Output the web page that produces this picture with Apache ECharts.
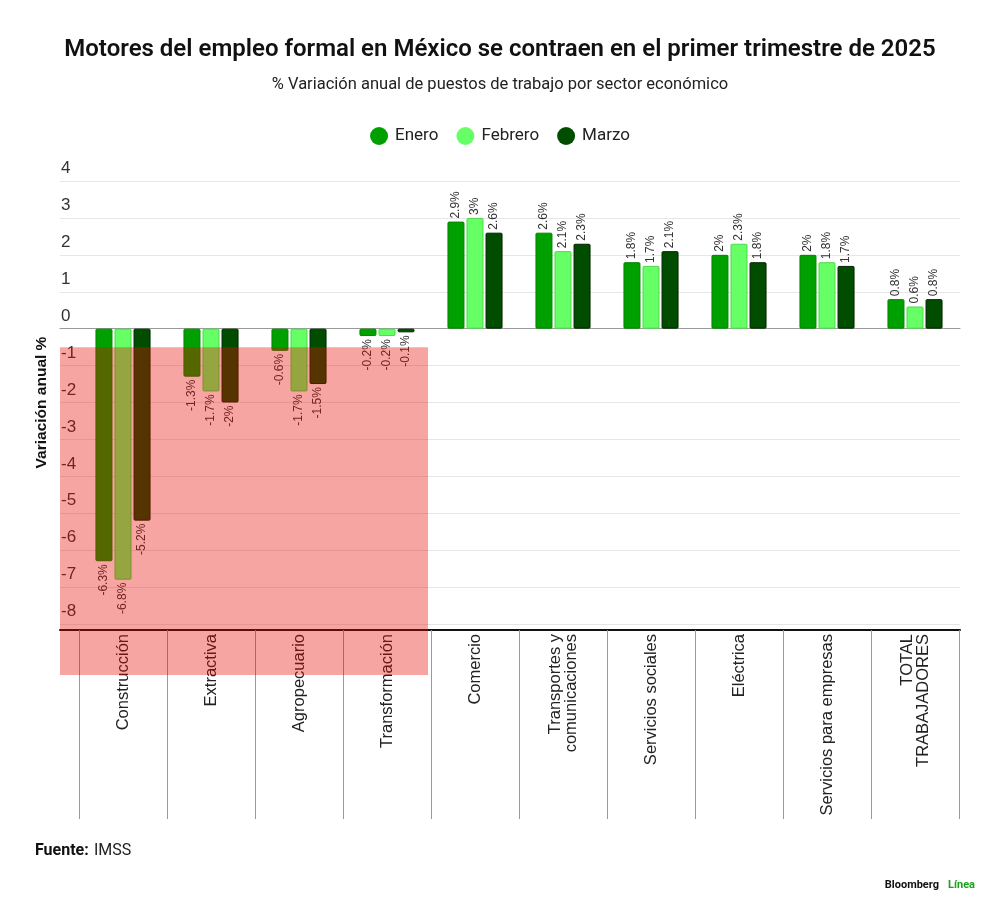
<!DOCTYPE html>
<html><head><meta charset="utf-8">
<script src="https://cdn.jsdelivr.net/npm/echarts@6/dist/echarts.min.js"></script>
<style>html,body{margin:0;padding:0;background:#fff}#c{width:1000px;height:912px}</style>
</head><body><div id="c"></div>
<script>
var categories = ['Construcción','Extractiva','Agropecuario','Transformación','Comercio','Transportes y\ncomunicaciones','Servicios sociales','Eléctrica','Servicios para empresas','TOTAL\nTRABAJADORES'];
var enero   = [-6.3, -1.3, -0.6, -0.2, 2.9, 2.6, 1.8, 2.0, 2.0, 0.8];
var febrero = [-6.8, -1.7, -1.7, -0.2, 3.0, 2.1, 1.7, 2.3, 1.8, 0.6];
var marzo   = [-5.2, -2.0, -1.5, -0.1, 2.6, 2.3, 2.1, 1.8, 1.7, 0.8];
var seriesNames = ['Enero','Febrero','Marzo'];
var yMin = -8, yMax = 4, yStep = 1;
var highlightTop = -0.5;

var colors = ['#00a000','#66ff66','#004d00'];
var borders = ['#008400','#4cd84c','#002400'];
var labelFont = 'Liberation Sans, Arial, sans-serif';
var headFont = 'Roboto, Inter, sans-serif';

function mkSeries(name, data, i){
  return {
    name: name, type: 'bar', xAxisIndex: 2, yAxisIndex: 1,
    barWidth: 17, barGap: '12%',
    itemStyle: {color: colors[i], borderColor: borders[i], borderWidth: 1, borderRadius: 1},
    data: data.map(function(v){
      var pos = v >= 0;
      return {value: v, label: {show: true, position: pos ? 'top' : 'bottom', rotate: 90,
        align: pos ? 'left' : 'right', verticalAlign: 'middle', distance: 3,
        formatter: function(p){ return p.value + '%'; },
        fontFamily: labelFont, fontSize: 12, color: '#333'}};
    })
  };
}

var chart = echarts.init(document.getElementById('c'));
var option = {
  backgroundColor: '#fff',
  animation: false,
  title: [
    {text: 'Motores del empleo formal en México se contraen en el primer trimestre de 2025', left: 'center', top: 33,
     textStyle: {fontFamily: headFont, fontWeight: 600, fontSize: 24, color: '#111'}},
    {text: '% Variación anual de puestos de trabajo por sector económico', left: 'center', top: 71,
     textStyle: {fontFamily: headFont, fontWeight: 400, fontSize: 16.5, color: '#222'}}
  ],
  legend: {top: 122, left: 'center', icon: 'circle', itemWidth: 18, itemHeight: 18, itemGap: 18,
    itemStyle: {borderWidth: 0},
    data: seriesNames, textStyle: {fontFamily: headFont, fontSize: 17, color: '#222', padding: [0,0,0,2]}},
  grid: [
    {left: 60, right: 40, top: 181, bottom: 288},
    {left: 79, right: 41, top: 181, bottom: 288}
  ],
  xAxis: [
    {gridIndex: 0, type: 'value', min: 0, max: 1, position: 'bottom', offset: 6,
     axisLine: {show: true, onZero: false, lineStyle: {color: '#111', width: 2}},
     axisTick: {show: false}, axisLabel: {show: false}, splitLine: {show: false}},
    {gridIndex: 0, type: 'value', min: 0, max: 1, position: 'top',
     axisLine: {show: true, onZero: true, lineStyle: {color: '#999', width: 1}},
     axisTick: {show: false}, axisLabel: {show: false}, splitLine: {show: false}},
    {gridIndex: 1, type: 'category', data: categories, position: 'bottom', offset: 6,
     axisLine: {show: false, onZero: false},
     axisTick: {show: true, interval: 0, length: 189, lineStyle: {color: '#999', width: 1}},
     axisLabel: {interval: 0, rotate: 90, margin: 4, fontFamily: labelFont, fontSize: 16.5, color: '#222', lineHeight: 16},
     splitLine: {show: false}}
  ],
  yAxis: [
    {gridIndex: 0, type: 'value', min: yMin, max: yMax, interval: yStep,
     name: 'Variación anual %', nameLocation: 'middle', nameGap: 6, nameRotate: 90,
     nameTextStyle: {fontFamily: labelFont, fontWeight: 'bold', fontSize: 15.5, color: '#111'},
     axisLine: {show: false}, axisTick: {show: false},
     axisLabel: {inside: true, margin: 1, verticalAlign: 'bottom', padding: [0,0,4,0], fontFamily: labelFont, fontSize: 17, color: '#333'},
     splitLine: {show: true, lineStyle: {color: '#e6e6e6', width: 1}}},
    {gridIndex: 1, type: 'value', min: yMin, max: yMax, interval: yStep, show: false, splitLine: {show: false}}
  ],
  series: [mkSeries(seriesNames[0], enero, 0), mkSeries(seriesNames[1], febrero, 1), mkSeries(seriesNames[2], marzo, 2)],
  graphic: [
    {type: 'text', left: 35, top: 843, style: {text: 'Fuente:', font: 'bold 16px ' + headFont, fill: '#111'}},
    {type: 'text', left: 94, top: 843, style: {text: 'IMSS', font: '16px ' + headFont, fill: '#222'}},
    {type: 'text', right: 61, top: 880, style: {text: 'Bloomberg', font: 'bold 11px ' + headFont, fill: '#111'}},
    {type: 'text', right: 25, top: 880, style: {text: 'Línea', font: 'bold 11px ' + headFont, fill: '#1aa01a'}}
  ]
};
chart.setOption(option);

// highlight overlay for contracting sectors, positioned through the axes
var c0 = chart.convertToPixel({xAxisIndex: 2}, categories[0]);
var c1 = chart.convertToPixel({xAxisIndex: 2}, categories[1]);
var band = c1 - c0;
var lastNeg = 3;
var xr = chart.convertToPixel({xAxisIndex: 2}, categories[lastNeg]) + band / 2 - 3;
var yTop = chart.convertToPixel({yAxisIndex: 0}, highlightTop);
var yAx = chart.convertToPixel({yAxisIndex: 0}, yMin);
var xl = chart.convertToPixel({xAxisIndex: 0}, 0);
chart.setOption({graphic: [{type: 'rect', id: 'hl', z: 100, silent: true,
  shape: {x: xl, y: yTop, width: xr - xl, height: (yAx + 51) - yTop},
  style: {fill: 'rgba(233,8,0,0.365)'}}]});
</script></body></html>
